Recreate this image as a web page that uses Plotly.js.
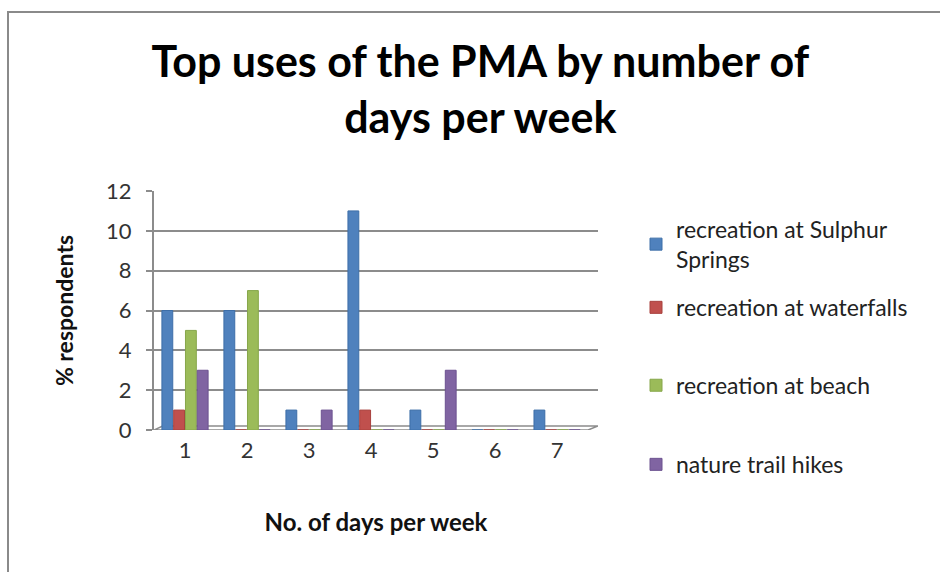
<!DOCTYPE html>
<html>
<head>
<meta charset="utf-8">
<script src="https://cdn.plot.ly/plotly-3.0.1.min.js"></script>
<style>
body{margin:0;padding:0;background:#fff;}
#chart{position:absolute;left:0;top:0;width:940px;height:572px;}
#frame{position:absolute;left:7px;top:11px;width:940px;height:572px;border-top:2px solid #8a8a8a;border-left:2px solid #8a8a8a;pointer-events:none;}
</style>
</head>
<body>
<div id="chart"></div>
<div id="frame"></div>
<script>
const days = [1, 2, 3, 4, 5, 6, 7];
const seriesNames = [
  "recreation at Sulphur<br>Springs",
  "recreation at waterfalls",
  "recreation at beach",
  "nature trail hikes"
];
const sulphurSprings = [6, 6, 1, 11, 1, 0, 1];
const waterfalls = [1, 0, 0, 1, 0, 0, 0];
const beach = [5, 7, 0, 0, 0, 0, 0];
const trailHikes = [3, 0, 1, 0, 3, 0, 0];
const yTicks = [0, 2, 4, 6, 8, 10, 12];

const colors = ["#4F81BD", "#C0504D", "#9BBB59", "#8064A2"];
const edges = ["#3d6ea8", "#a8403d", "#86a64a", "#6c5290"];
const values = [sulphurSprings, waterfalls, beach, trailHikes];
const legendIds = ["legend", "legend2", "legend3", "legend4"];
const legendY = [0.93, 0.603, 0.277, -0.054];

const font = "Lato, 'Open Sans', sans-serif";

const traces = values.map((v, i) => ({
  type: "bar",
  x: days,
  y: v,
  name: seriesNames[i],
  legend: legendIds[i],
  marker: {color: colors[i], line: {color: edges[i], width: 1}},
  hoverinfo: "x+y+name"
}));

const layout = {
  width: 940,
  height: 572,
  margin: {l: 154, r: 342, t: 191, b: 142},
  paper_bgcolor: "#ffffff",
  plot_bgcolor: "#ffffff",
  font: {family: font, color: "#222"},
  barmode: "group",
  bargap: 0.24,
  bargroupgap: 0.08,
  title: {
    text: "<b>Top uses of the PMA by number of<br>days per week</b>",
    font: {family: font, size: 43, color: "#000"},
    xref: "container", x: 0.511, xanchor: "center",
    yref: "container", y: 0.865, yanchor: "top"
  },
  xaxis: {
    type: "linear",
    range: [0.5, 7.66],
    tickvals: days,
    ticktext: days.map(String),
    showgrid: false,
    zeroline: false,
    showline: false,
    ticks: "",
    ticklabelstandoff: 5,
    tickfont: {size: 22, color: "#333"},
    title: {text: "<b>No. of days per week</b>", font: {size: 24, color: "#111"}, standoff: 52}
  },
  yaxis: {
    range: [0, 12],
    tickvals: yTicks,
    showgrid: true,
    gridcolor: "#8c8c8c",
    gridwidth: 2,
    zeroline: false,
    showline: true,
    linecolor: "#8c8c8c",
    linewidth: 2,
    ticks: "outside",
    ticklen: 6,
    tickcolor: "#8c8c8c",
    tickwidth: 2,
    ticklabelstandoff: 10,
    tickfont: {size: 22, color: "#333"},
    title: {text: "<b>% respondents</b>", font: {size: 23, color: "#111"}, standoff: 26}
  },
  shapes: [
    {type: "path", xref: "x", yref: "y",
     path: "M 0.5 0 L 7.5 0 L 7.66 0.2 L 0.64 0.2 Z",
     line: {color: "#8c8c8c", width: 1.5}, fillcolor: "rgba(0,0,0,0)", layer: "below"}
  ],
  showlegend: true
};

legendIds.forEach((id, i) => {
  layout[id] = {
    x: 1.0856, xanchor: "left",
    y: legendY[i], yanchor: "top",
    font: {family: font, size: 23, color: "#222"},
    bgcolor: "rgba(0,0,0,0)",
    itemclick: false, itemdoubleclick: false
  };
});

Plotly.newPlot("chart", traces, layout, {displayModeBar: false, staticPlot: true});
</script>
</body>
</html>
